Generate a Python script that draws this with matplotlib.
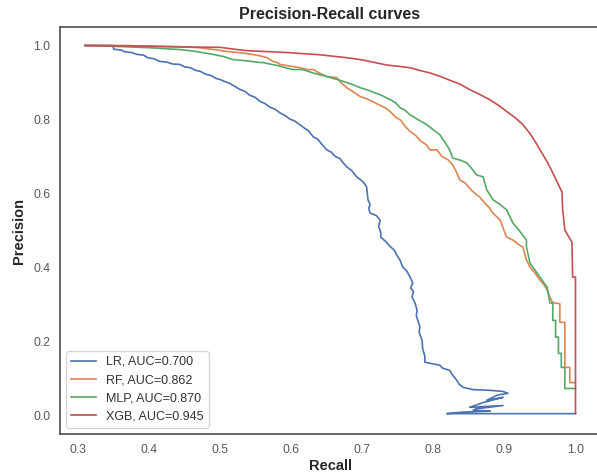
import matplotlib
matplotlib.use('Agg')
import matplotlib.pyplot as plt

plt.rcParams['font.family'] = ['Liberation Sans', 'DejaVu Sans']

# recall / precision pairs for each classifier
lr_recall = [0.310, 0.349, 0.350, 0.360, 0.366, 0.375, 0.383, 0.392, 0.398, 0.407,
             0.415, 0.425, 0.433, 0.443, 0.450, 0.458, 0.465, 0.472, 0.480, 0.487,
             0.494, 0.500, 0.507, 0.513, 0.520, 0.528, 0.535, 0.541, 0.549, 0.556,
             0.563, 0.570, 0.577, 0.584, 0.592, 0.598, 0.605, 0.612, 0.619, 0.624,
             0.631, 0.637, 0.643, 0.650, 0.656, 0.662, 0.668, 0.673, 0.678, 0.685,
             0.692, 0.699, 0.703, 0.706, 0.707, 0.708, 0.711, 0.709, 0.711, 0.720,
             0.725, 0.723, 0.726, 0.726, 0.733, 0.739, 0.745, 0.748, 0.753, 0.757,
             0.762, 0.767, 0.771, 0.768, 0.772, 0.770, 0.774, 0.777, 0.776, 0.778,
             0.781, 0.780, 0.784, 0.785, 0.788, 0.788, 0.798, 0.809, 0.813, 0.823,
             0.826, 0.833, 0.836, 0.842, 0.856, 0.880, 0.898, 0.905, 0.890, 0.875,
             0.898, 0.870, 0.851, 0.898, 0.860, 0.856, 0.880, 0.840, 0.819, 1.000]
lr_precision = [1.000, 1.000, 0.990, 0.988, 0.983, 0.981, 0.976, 0.974, 0.967, 0.964,
                0.957, 0.955, 0.950, 0.949, 0.942, 0.940, 0.933, 0.930, 0.922, 0.919,
                0.911, 0.908, 0.902, 0.898, 0.890, 0.881, 0.876, 0.866, 0.860, 0.849,
                0.843, 0.833, 0.828, 0.818, 0.810, 0.801, 0.796, 0.786, 0.776, 0.770,
                0.753, 0.747, 0.733, 0.718, 0.712, 0.700, 0.695, 0.683, 0.672, 0.662,
                0.645, 0.635, 0.627, 0.618, 0.600, 0.583, 0.570, 0.560, 0.547, 0.540,
                0.528, 0.510, 0.495, 0.482, 0.470, 0.457, 0.447, 0.435, 0.420, 0.401,
                0.392, 0.375, 0.358, 0.345, 0.335, 0.320, 0.305, 0.285, 0.270, 0.257,
                0.240, 0.225, 0.203, 0.180, 0.160, 0.144, 0.140, 0.136, 0.128, 0.122,
                0.112, 0.095, 0.085, 0.076, 0.070, 0.068, 0.065, 0.060, 0.055, 0.041,
                0.049, 0.035, 0.022, 0.027, 0.018, 0.014, 0.012, 0.009, 0.005, 0.005]

rf_recall = [0.310, 0.369, 0.410, 0.443, 0.470, 0.500, 0.504, 0.530, 0.545, 0.556,
             0.566, 0.574, 0.580, 0.584, 0.600, 0.612, 0.622, 0.631, 0.640, 0.650,
             0.664, 0.670, 0.678, 0.687, 0.697, 0.705, 0.715, 0.725, 0.732, 0.739,
             0.747, 0.754, 0.760, 0.767, 0.775, 0.782, 0.790, 0.795, 0.805, 0.812,
             0.820, 0.827, 0.832, 0.837, 0.845, 0.852, 0.861, 0.865, 0.872, 0.878,
             0.884, 0.894, 0.903, 0.912, 0.920, 0.926, 0.931, 0.936, 0.943, 0.950,
             0.955, 0.960, 0.964, 0.968, 0.978, 0.978, 0.985, 0.985, 0.992, 0.992,
             1.000]
rf_precision = [1.000, 1.000, 0.998, 0.997, 0.994, 0.987, 0.985, 0.980, 0.976, 0.972,
                0.967, 0.957, 0.954, 0.949, 0.944, 0.940, 0.935, 0.935, 0.925, 0.916,
                0.913, 0.900, 0.886, 0.875, 0.862, 0.857, 0.848, 0.838, 0.832, 0.822,
                0.806, 0.798, 0.782, 0.768, 0.757, 0.742, 0.732, 0.718, 0.718, 0.700,
                0.692, 0.678, 0.660, 0.637, 0.628, 0.612, 0.596, 0.591, 0.575, 0.563,
                0.547, 0.528, 0.482, 0.474, 0.462, 0.455, 0.420, 0.401, 0.385, 0.366,
                0.355, 0.340, 0.320, 0.305, 0.302, 0.252, 0.252, 0.130, 0.130, 0.089,
                0.089]

mlp_recall = [0.310, 0.349, 0.400, 0.443, 0.462, 0.490, 0.505, 0.518, 0.540, 0.556,
              0.560, 0.580, 0.602, 0.616, 0.632, 0.650, 0.665, 0.678, 0.687, 0.697,
              0.710, 0.725, 0.739, 0.747, 0.753, 0.760, 0.767, 0.778, 0.790, 0.800,
              0.809, 0.815, 0.823, 0.827, 0.838, 0.847, 0.855, 0.861, 0.870, 0.875,
              0.884, 0.894, 0.903, 0.912, 0.917, 0.924, 0.931, 0.931, 0.936, 0.943,
              0.950, 0.955, 0.960, 0.964, 0.968, 0.968, 0.972, 0.972, 0.976, 0.976,
              0.980, 0.980, 0.985, 0.985, 1.000]
mlp_precision = [1.000, 0.998, 0.994, 0.989, 0.985, 0.976, 0.970, 0.962, 0.958, 0.954,
                 0.954, 0.946, 0.935, 0.935, 0.925, 0.916, 0.908, 0.900, 0.894, 0.886,
                 0.878, 0.867, 0.854, 0.845, 0.832, 0.825, 0.813, 0.800, 0.787, 0.772,
                 0.759, 0.742, 0.718, 0.696, 0.690, 0.683, 0.665, 0.650, 0.645, 0.610,
                 0.583, 0.570, 0.556, 0.520, 0.509, 0.492, 0.474, 0.455, 0.412, 0.393,
                 0.374, 0.360, 0.347, 0.304, 0.304, 0.257, 0.257, 0.212, 0.212, 0.168,
                 0.168, 0.130, 0.130, 0.073, 0.073]

xgb_recall = [0.310, 0.400, 0.443, 0.500, 0.524, 0.538, 0.560, 0.594, 0.640, 0.678,
              0.697, 0.715, 0.735, 0.750, 0.767, 0.780, 0.795, 0.809, 0.822, 0.838,
              0.851, 0.865, 0.879, 0.891, 0.903, 0.915, 0.926, 0.936, 0.946, 0.950,
              0.955, 0.960, 0.967, 0.974, 0.981, 0.982, 0.985, 0.995, 0.996, 1.000,
              1.000]
xgb_precision = [1.000, 0.998, 0.996, 0.995, 0.989, 0.986, 0.984, 0.981, 0.975, 0.967,
                 0.962, 0.955, 0.947, 0.944, 0.940, 0.933, 0.926, 0.917, 0.907, 0.895,
                 0.881, 0.868, 0.854, 0.839, 0.822, 0.805, 0.786, 0.762, 0.732, 0.718,
                 0.702, 0.686, 0.660, 0.632, 0.604, 0.556, 0.501, 0.469, 0.374, 0.374,
                 0.005]

labels = ['LR, AUC=0.700', 'RF, AUC=0.862', 'MLP, AUC=0.870', 'XGB, AUC=0.945']
colors = ['#4C72B0', '#DD8452', '#55A868', '#C44E52']

fig = plt.figure(figsize=(5.97, 4.74), dpi=100)
ax = fig.add_axes([60 / 597, 40 / 474, 540 / 597, 407 / 474])

curves = [(lr_recall, lr_precision), (rf_recall, rf_precision),
          (mlp_recall, mlp_precision), (xgb_recall, xgb_precision)]
for (r, p), lab, col in zip(curves, labels, colors):
    ax.plot(r, p, color=col, lw=1.2, label=lab)

ax.set_xlim(0.2745, 1.0345)
ax.set_ylim(-0.05, 1.05)
ax.set_xticks([0.3, 0.4, 0.5, 0.6, 0.7, 0.8, 0.9, 1.0])
ax.set_yticks([0.0, 0.2, 0.4, 0.6, 0.8, 1.0])
ax.tick_params(length=0, pad=7, labelsize=8.8, labelcolor='0.35')

for s in ax.spines.values():
    s.set_color('0.25')
    s.set_linewidth(1.1)

ax.set_title('Precision-Recall curves', fontsize=11.5, fontweight='bold', color='0.15', pad=6)
ax.set_xlabel('Recall', fontsize=10.5, fontweight='bold', color='0.15', labelpad=2)
ax.set_ylabel('Precision', fontsize=10.5, fontweight='bold', color='0.15', labelpad=5)

leg = ax.legend(loc='lower left', fontsize=9, frameon=True, fancybox=True,
                edgecolor='0.8', framealpha=0.8, borderaxespad=0.5)
for t in leg.get_texts():
    t.set_color('0.2')

fig.savefig('out.png', dpi=100)
